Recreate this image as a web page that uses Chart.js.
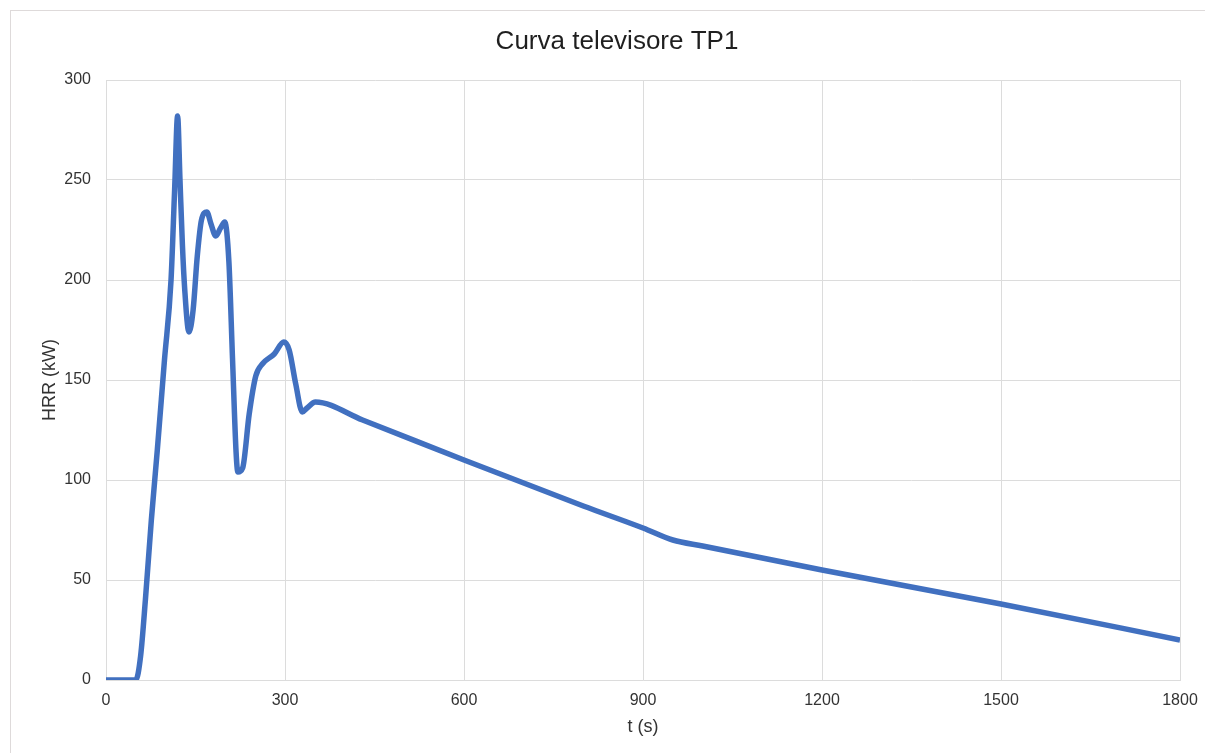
<!DOCTYPE html>
<html lang="it">
<head>
    <meta charset="UTF-8">
    <title>Curva televisore TP1</title>
    <style>
        body {
            margin: 0;
            padding: 0;
            background-color: #ffffff;
            overflow: hidden;
        }

        .frame {
            position: absolute;
            left: 10px;
            top: 10px;
            width: 1220px;
            height: 800px;
            border: 1px solid #dedada;
        }

        .chart-box {
            position: absolute;
            left: 0;
            top: 0;
            width: 1205px;
            height: 753px;
        }
    </style>
    <script src="https://cdn.jsdelivr.net/npm/chart.js"></script>
</head>
<body>
    <div class="frame"></div>
    <div class="chart-box">
        <canvas id="hrrChart"></canvas>
    </div>

    <script>
        // Heat release rate curve, time in seconds and HRR in kW
        const timeSec = [0, 50, 58, 66, 76, 86, 98, 109, 115, 120, 124, 128, 132, 139,
            146, 153, 160, 169, 176, 184, 192, 199, 206, 212, 218, 221, 229, 240, 251,
            262, 282, 298, 307, 318, 329, 337, 351, 430, 600, 800, 900, 950, 1000, 1200, 1500, 1800];
        const hrrKw = [0, 0, 12, 40, 80, 115, 160, 200, 245, 282, 250, 218, 195, 174,
            185, 212, 230, 234, 228, 222, 226, 229, 209, 161, 114, 104, 106, 133, 152,
            158, 163, 169, 165, 148, 134, 136, 139, 130, 110, 87, 76, 70, 67, 55, 38, 20];

        const xTicks = [0, 300, 600, 900, 1200, 1500, 1800];
        const yTicks = [0, 50, 100, 150, 200, 250, 300];
        const chartTitle = 'Curva televisore TP1';

        const fontFamily = '"Liberation Sans", Arial, sans-serif';
        const gridColor = '#dcdcdc';

        const points = timeSec.map((t, i) => ({ x: t, y: hrrKw[i] }));

        // the title sits a little right of the canvas centre, so draw it by hand
        const titlePlugin = {
            id: 'offsetTitle',
            afterDraw(chart) {
                const c = chart.ctx;
                c.save();
                c.font = '26px ' + fontFamily;
                c.fillStyle = '#1f1f1f';
                c.textAlign = 'center';
                c.textBaseline = 'middle';
                c.fillText(chartTitle, 617, 42);
                c.restore();
            }
        };

        const ctx = document.getElementById('hrrChart').getContext('2d');
        const hrrChart = new Chart(ctx, {
            type: 'line',
            data: {
                datasets: [{
                    label: 'HRR',
                    data: points,
                    borderColor: '#4170c0',
                    borderWidth: 5.5,
                    pointRadius: 0,
                    fill: false,
                    cubicInterpolationMode: 'monotone'
                }]
            },
            plugins: [titlePlugin],
            options: {
                responsive: true,
                maintainAspectRatio: false,
                animation: false,
                layout: {
                    padding: { left: 0, right: 25, top: 80, bottom: 0 }
                },
                plugins: {
                    legend: { display: false },
                    tooltip: { enabled: false },
                    title: { display: false }
                },
                scales: {
                    x: {
                        type: 'linear',
                        min: 0,
                        max: 1800,
                        afterBuildTicks: (scale) => {
                            scale.ticks = xTicks.map(v => ({ value: v }));
                        },
                        afterFit: (scale) => {
                            scale.height = 73;
                            scale.paddingRight = 0;
                            scale.paddingLeft = 0;
                        },
                        grid: { color: gridColor, drawTicks: false },
                        border: { color: gridColor },
                        ticks: {
                            color: '#333333',
                            padding: 11,
                            font: { family: fontFamily, size: 16 },
                            maxRotation: 0,
                            callback: (v) => String(v)
                        },
                        title: {
                            display: true,
                            text: 't (s)',
                            color: '#333333',
                            font: { family: fontFamily, size: 18 },
                            padding: { top: 0, bottom: 15 }
                        }
                    },
                    y: {
                        min: 0,
                        max: 300,
                        afterBuildTicks: (scale) => {
                            scale.ticks = yTicks.map(v => ({ value: v }));
                        },
                        afterFit: (scale) => { scale.width = 106; },
                        grid: { color: gridColor, drawTicks: false },
                        border: { color: gridColor },
                        ticks: {
                            color: '#333333',
                            padding: 15,
                            font: { family: fontFamily, size: 16 },
                            callback: (v) => String(v)
                        },
                        title: {
                            display: true,
                            text: 'HRR (kW)',
                            color: '#333333',
                            font: { family: fontFamily, size: 18 },
                            padding: { top: 39, bottom: 0 }
                        }
                    }
                }
            }
        });
    </script>
</body>
</html>
